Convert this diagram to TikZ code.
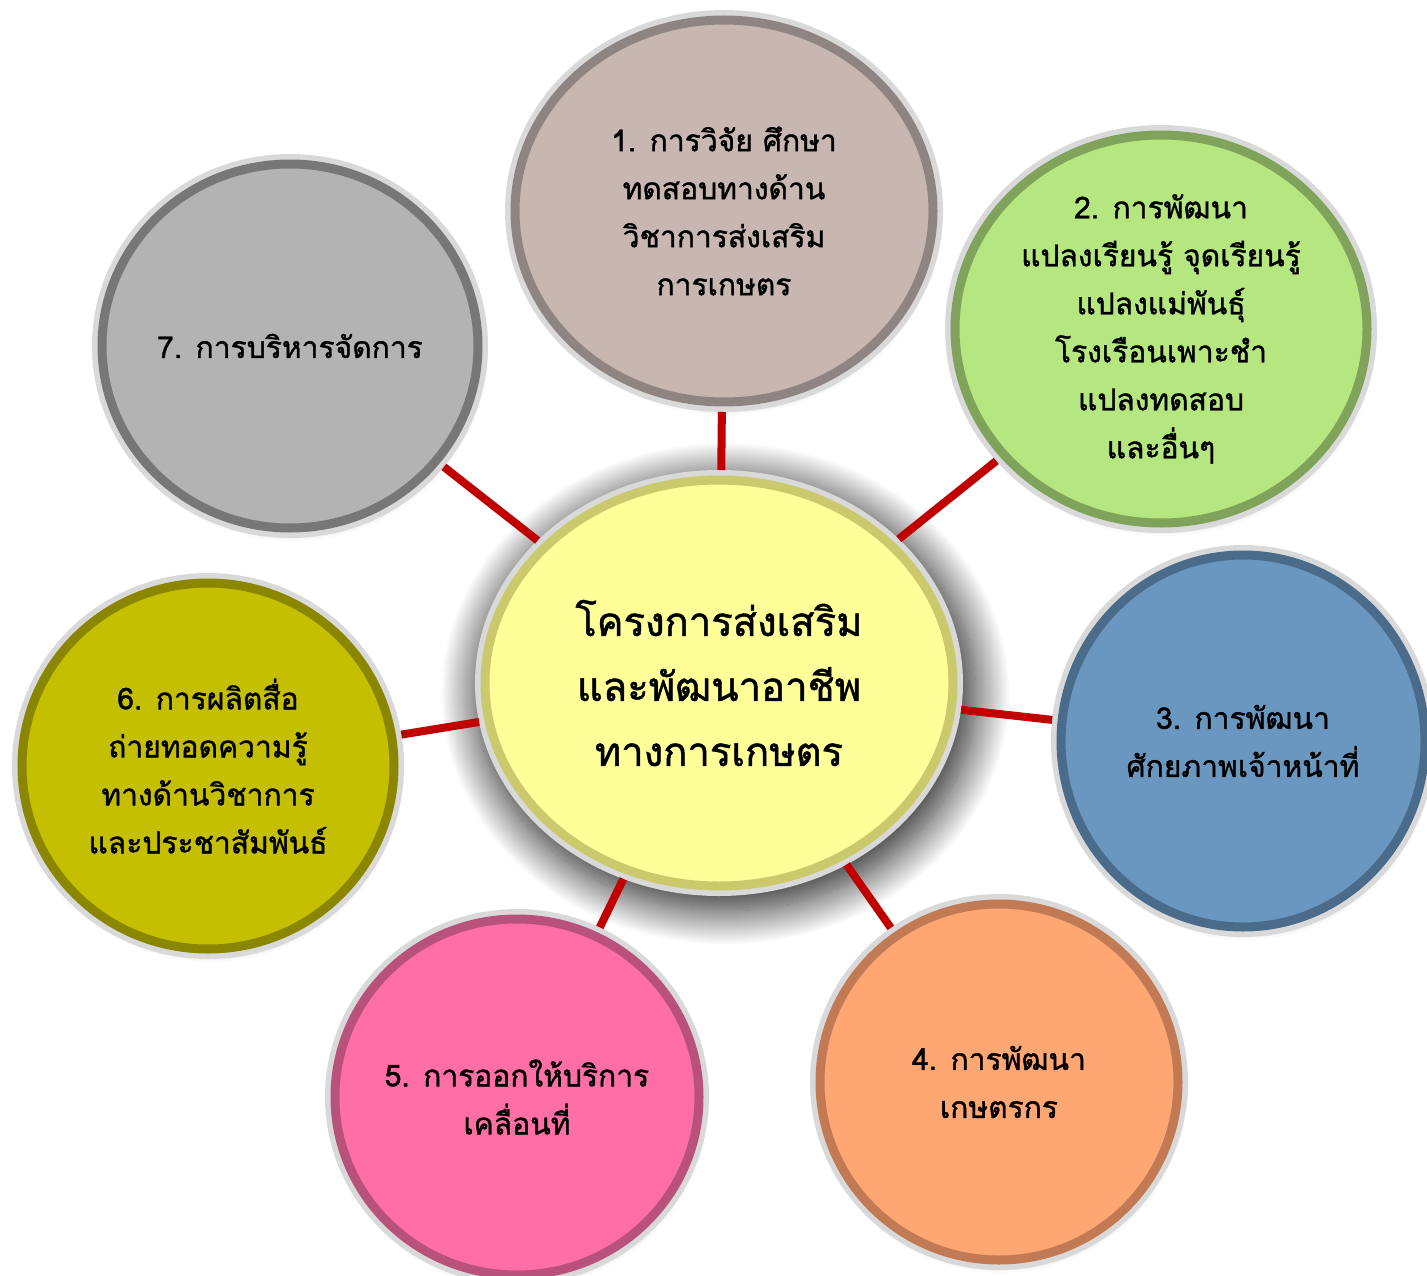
\documentclass[tikz,border=0pt]{standalone}
\usepackage{fontspec}
\newfontfamily\thaifont[Script=Thai,FakeBold=1.2]{Loma}
\usetikzlibrary{shapes.geometric,shadows.blur}

\definecolor{rimgray}{HTML}{D9D9D9}
\definecolor{linkred}{HTML}{C00000}
\definecolor{hubfill}{HTML}{FFFF99}
\definecolor{hubring}{HTML}{CACA6C}
\definecolor{tanfill}{HTML}{C8B6B0}
\definecolor{tanring}{HTML}{8E8583}
\definecolor{greenfill}{HTML}{B5E680}
\definecolor{greenring}{HTML}{7FA35A}
\definecolor{bluefill}{HTML}{6A97BF}
\definecolor{bluering}{HTML}{4B6B8A}
\definecolor{orangefill}{HTML}{FFA772}
\definecolor{orangering}{HTML}{C27A55}
\definecolor{pinkfill}{HTML}{FF6FA6}
\definecolor{pinkring}{HTML}{B8527B}
\definecolor{olivefill}{HTML}{C4BF00}
\definecolor{olivering}{HTML}{8A8600}
\definecolor{grayfill}{HTML}{B3B3B3}
\definecolor{grayring}{HTML}{777777}

\begin{document}
\begin{tikzpicture}[x=1pt,y=-1pt]

\tikzset{
  smallshadow/.style={blur shadow={shadow xshift=2pt, shadow yshift=-5pt, shadow blur radius=8pt, shadow opacity=25}},
  bigshadow/.style={blur shadow={shadow xshift=6pt, shadow yshift=-10pt, shadow scale=1.07, shadow blur radius=32pt, shadow blur steps=40, shadow opacity=85}},
  bubble/.style 2 args={ellipse, inner sep=0pt, outer sep=10pt, fill=#1, draw=#2, line width=9pt,
    preaction={draw=rimgray, line width=20pt}},
  bubbletext/.style={font=\thaifont\fontsize{30}{48}\selectfont, align=center, text=black},
  hubtext/.style={font=\thaifont\fontsize{40}{65}\selectfont, align=center, text=black},
  link/.style={draw=linkred, line width=8pt}
}

\useasboundingbox (0,0) rectangle (1427,1276);

% centre
\node[bigshadow, bubble={hubfill}{hubring}, minimum width=468pt, minimum height=406pt,
  label={[hubtext]center:{โครงการส่งเสริม\\และพัฒนาอาชีพ\\ทางการเกษตร}}] (hub) at (719,683) {};

% seven topics
\node[smallshadow, bubble={tanfill}{tanring}, minimum width=418pt, minimum height=382pt,
  label={[bubbletext]center:{1. การวิจัย ศึกษา\\ทดสอบทางด้าน\\วิชาการส่งเสริม\\การเกษตร}}] (c1) at (724,211) {};
\node[smallshadow, bubble={greenfill}{greenring}, minimum width=412pt, minimum height=388pt,
  label={[bubbletext]center:{2. การพัฒนา\\แปลงเรียนรู้ จุดเรียนรู้\\แปลงแม่พันธุ์\\โรงเรือนเพาะชำ\\แปลงทดสอบ\\และอื่นๆ}}] (c2) at (1161,329) {};
\node[smallshadow, bubble={bluefill}{bluering}, minimum width=364pt, minimum height=372pt,
  label={[bubbletext]center:{3. การพัฒนา\\ศักยภาพเจ้าหน้าที่}}] (c3) at (1243,741) {};
\node[smallshadow, bubble={orangefill}{orangering}, minimum width=358pt, minimum height=356pt,
  label={[bubbletext]center:{4. การพัฒนา\\เกษตรกร}}] (c4) at (999,1082) {};
\node[smallshadow, bubble={pinkfill}{pinkring}, minimum width=364pt, minimum height=356pt,
  label={[bubbletext]center:{5. การออกให้บริการ\\เคลื่อนที่}}] (c5) at (517,1097) {};
\node[smallshadow, bubble={olivefill}{olivering}, minimum width=372pt, minimum height=366pt,
  label={[bubbletext]center:{6. การผลิตสื่อ\\ถ่ายทอดความรู้\\ทางด้านวิชาการ\\และประชาสัมพันธ์}}] (c6) at (208,766) {};
\node[smallshadow, bubble={grayfill}{grayring}, minimum width=376pt, minimum height=364pt,
  label={[bubbletext]center:{7. การบริหารจัดการ}}] (c7) at (290,346) {};

\foreach \n in {c1,c2,c3,c4,c5,c6,c7}
  \draw[link] (hub) -- (\n);

\end{tikzpicture}
\end{document}
